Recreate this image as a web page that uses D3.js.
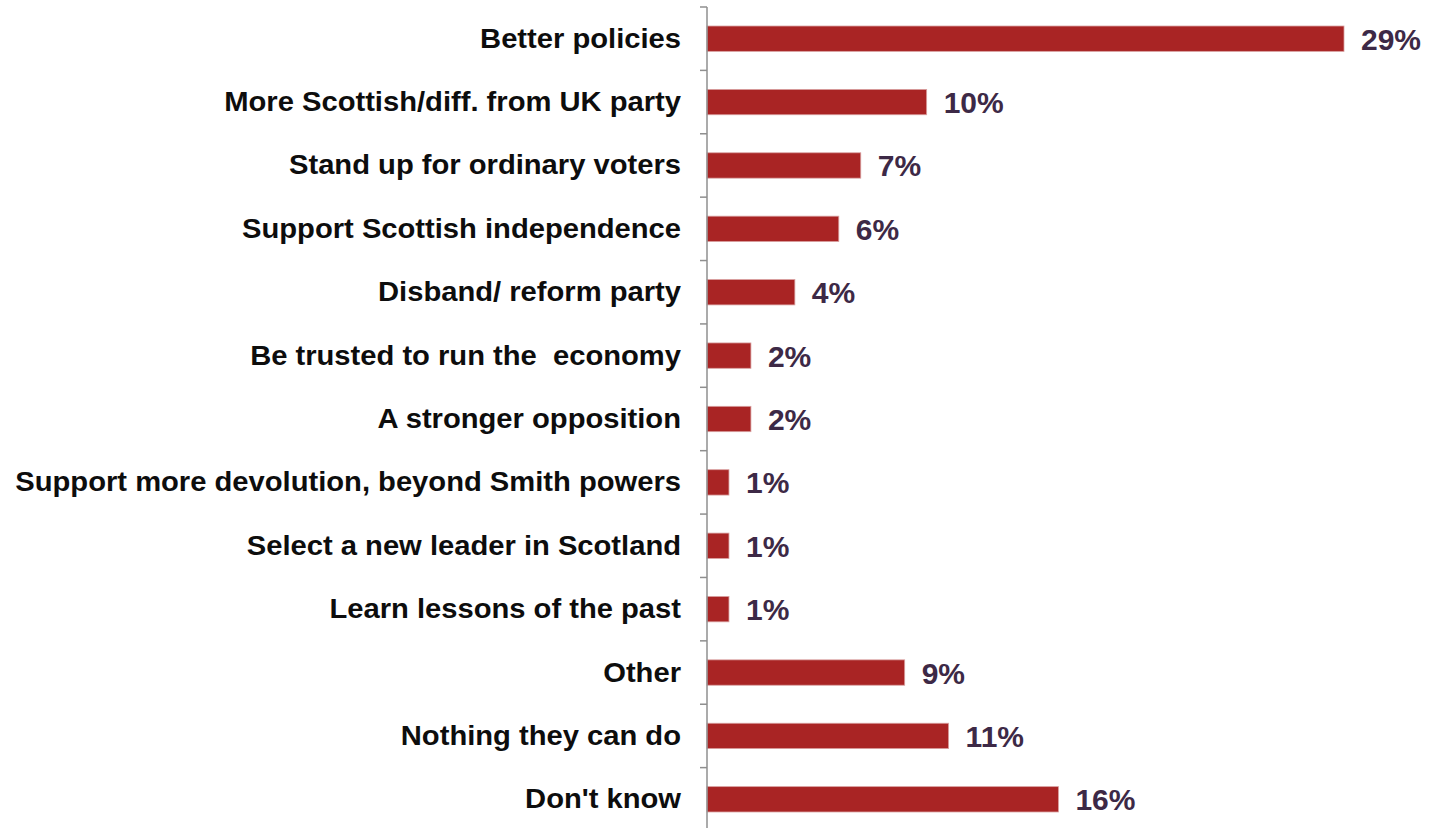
<!DOCTYPE html>
<html>
<head>
<meta charset="utf-8">
<script src="https://cdn.jsdelivr.net/npm/d3@7"></script>
<style>
  html, body { margin: 0; padding: 0; background: #fff; }
  svg { display: block; }
  text { white-space: pre; }
</style>
</head>
<body>
<svg id="chart" width="1429" height="828"></svg>
<script>
const categories = [
  "Better policies",
  "More Scottish/diff. from UK party",
  "Stand up for ordinary voters",
  "Support Scottish independence",
  "Disband/ reform party",
  "Be trusted to run the  economy",
  "A stronger opposition",
  "Support more devolution, beyond Smith powers",
  "Select a new leader in Scotland",
  "Learn lessons of the past",
  "Other",
  "Nothing they can do",
  "Don't know"
];
const values = [29, 10, 7, 6, 4, 2, 2, 1, 1, 1, 9, 11, 16];
const valueLabels = ["29%", "10%", "7%", "6%", "4%", "2%", "2%", "1%", "1%", "1%", "9%", "11%", "16%"];

const svg = d3.select("#chart");
const axisX = 707;
const plotTop = 7, plotBottom = 831;

const x = d3.scaleLinear().domain([0, 29]).range([axisX, 1344]);
const y = d3.scaleBand().domain(categories).range([plotTop, plotBottom]).paddingInner(0.6).paddingOuter(0.3);
const yTicks = d3.scaleBand().domain(categories).range([plotTop, plotBottom]);

// bars
svg.append("g").selectAll("rect")
  .data(values)
  .join("rect")
  .attr("x", x(0))
  .attr("y", (d, i) => y(categories[i]))
  .attr("width", d => x(d) - x(0))
  .attr("height", y.bandwidth())
  .attr("fill", "#A92424")
  .attr("stroke", "#d9a0a0")
  .attr("stroke-width", 0.8);

// axis line and boundary ticks
const ag = svg.append("g").attr("stroke", "#8f8f8f").attr("stroke-width", 1.5);
ag.append("line").attr("x1", axisX).attr("x2", axisX).attr("y1", plotTop).attr("y2", 828);
const boundaries = categories.map(c => yTicks(c));
ag.selectAll("line.tick").data(boundaries).join("line")
  .attr("class", "tick")
  .attr("x1", axisX - 7).attr("x2", axisX)
  .attr("y1", d => d).attr("y2", d => d);

// category labels
svg.append("g").selectAll("text")
  .data(categories)
  .join("text")
  .attr("transform", d => `translate(681,${yTicks(d) + yTicks.bandwidth() / 2 + 9}) scale(1.08,1)`)
  .attr("text-anchor", "end")
  .attr("xml:space", "preserve")
  .attr("font-family", "Liberation Sans, Arial, sans-serif")
  .attr("font-weight", "bold")
  .attr("font-size", 27)
  .attr("fill", "#0d0d0d")
  .text(d => d);

// value labels
svg.append("g").selectAll("text")
  .data(values)
  .join("text")
  .attr("x", d => x(d) + 17)
  .attr("y", (d, i) => y(categories[i]) + y.bandwidth() / 2 + 11)
  .attr("font-family", "Liberation Sans, Arial, sans-serif")
  .attr("font-weight", "bold")
  .attr("font-size", 30)
  .attr("fill", "#3D2946")
  .text((d, i) => valueLabels[i]);
</script>
</body>
</html>
